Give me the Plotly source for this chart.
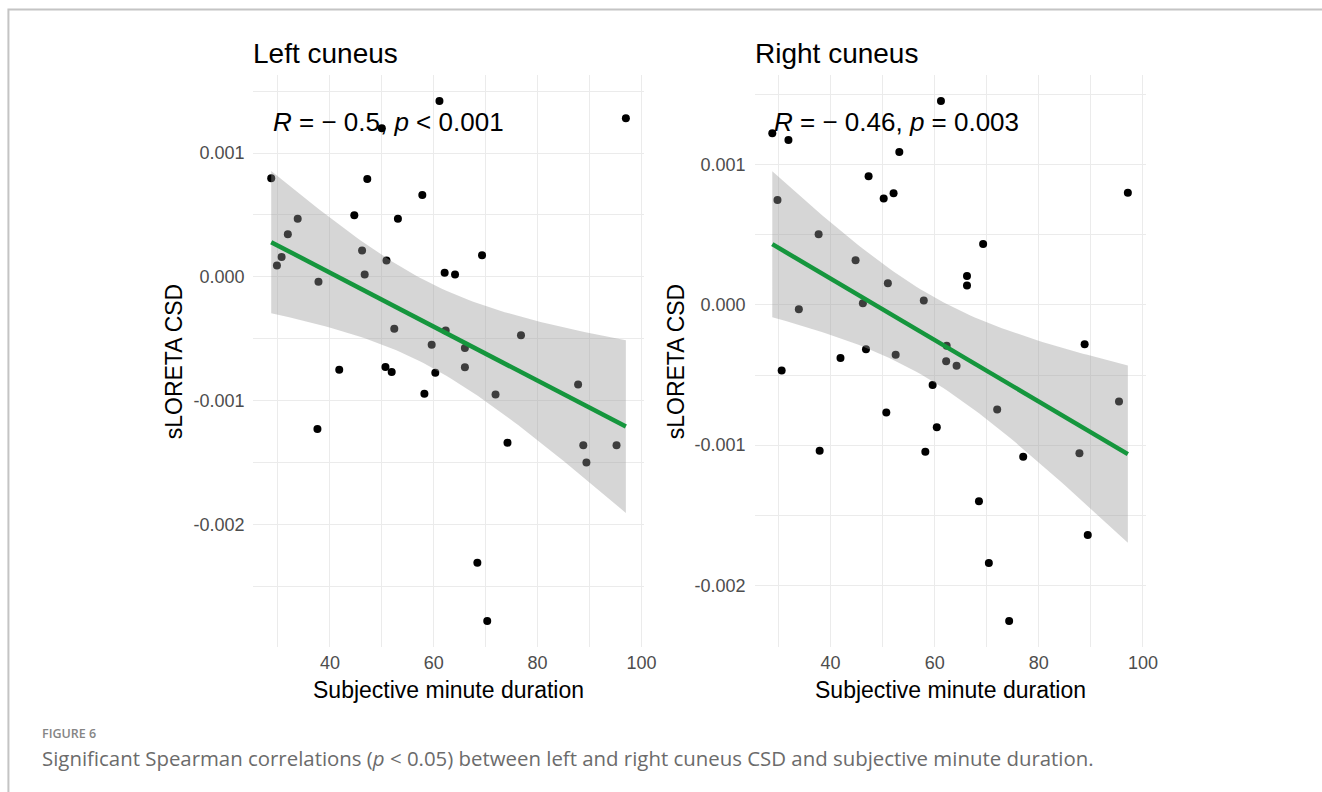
import numpy as np
import plotly.graph_objects as go

# ---------------- data ----------------
left_x = [61.1, 97.0, 50.0, 28.7, 47.2, 57.8, 44.7, 53.1, 33.8, 31.9, 46.2, 30.7, 29.8,
          50.9, 69.3, 62.1, 64.1, 46.7, 37.8, 52.4, 62.3, 76.8, 59.6, 66.0, 66.0, 41.8,
          50.7, 51.9, 60.3, 58.2, 71.9, 87.8, 37.6, 74.2, 88.8, 95.2, 89.4, 68.4, 70.3]
left_y = [0.00142, 0.00128, 0.00120, 0.000796, 0.00079, 0.00066, 0.000497, 0.000468,
          0.000468, 0.000344, 0.000212, 0.000159, 0.000091, 0.000132, 0.000175, 0.000032,
          0.000019, 0.000019, -0.00004, -0.00042, -0.000433, -0.000473, -0.000548,
          -0.000575, -0.000731, -0.00075, -0.000728, -0.000769, -0.000774, -0.000944,
          -0.00095, -0.00087, -0.00123, -0.00134, -0.00136, -0.00136, -0.0015,
          -0.00231, -0.00278]

right_x = [61.2, 28.8, 31.9, 53.2, 47.3, 52.1, 50.2, 97.1, 29.8, 37.7, 69.3, 44.8, 66.2,
           66.2, 51.0, 57.9, 46.2, 33.9, 46.8, 52.5, 41.9, 62.3, 62.2, 64.2, 30.6, 59.6,
           95.4, 72.0, 50.7, 60.4, 37.9, 58.2, 87.8, 77.0, 68.5, 89.4, 70.4, 74.3, 88.8]
right_y = [0.001454, 0.001224, 0.001176, 0.00109, 0.000917, 0.000796, 0.000758, 0.0008,
           0.000748, 0.000504, 0.000435, 0.000318, 0.000207, 0.000138, 0.000155, 0.000031,
           0.000012, -0.000031, -0.000316, -0.000356, -0.000378, -0.000292, -0.000401,
           -0.000433, -0.000468, -0.000572, -0.000689, -0.000746, -0.000768, -0.000872,
           -0.00104, -0.001048, -0.001057, -0.001083, -0.0014, -0.00164, -0.00184,
           -0.002254, -0.00028]

# linear-fit layer (values at the two ends of the fit)
left_fit_y = [0.00028, -0.00121]
left_band_lo = [-0.000293, -0.00191]
left_band_hi = [0.000857, -0.000516]
right_fit_y = [0.000433, -0.001064]
right_band_lo = [-0.000095, -0.0017]
right_band_hi = [0.000946, -0.000435]

panel_titles = ["Left cuneus", "Right cuneus"]
cor_labels = ["<i>R</i> = \u2212 0.5, <i>p</i> < 0.001", "<i>R</i> = \u2212 0.46, <i>p</i> = 0.003"]
x_tickvals = [40, 60, 80, 100]
x_ticktext = ["40", "60", "80", "100"]
y_tickvals = [0.001, 0.0, -0.001, -0.002]
y_ticktext = ["0.001", "0.000", "-0.001", "-0.002"]
x_title = "Subjective minute duration"
y_title = "sLORETA CSD"
caption_head = "FIGURE 6"
caption_body = ("Significant Spearman correlations (<i>p</i> < 0.05) between left and right "
                "cuneus CSD and subjective minute duration.")

# ---------------- helpers ----------------
W, H = 1322, 792


def smooth_layer(x, fit_y, lo_y, hi_y, n=80):
    """Straight fit line between its read end values; the confidence band follows
    the usual lm standard-error shape sqrt(A + B (x - mean)^2), matched to the
    half-widths read at both ends."""
    x = np.asarray(x, float)
    x0, x1 = x.min(), x.max()
    xbar = x.mean()
    xs = np.linspace(x0, x1, n)
    fit = fit_y[0] + (fit_y[1] - fit_y[0]) * (xs - x0) / (x1 - x0)
    h0 = (hi_y[0] - lo_y[0]) / 2
    h1 = (hi_y[1] - lo_y[1]) / 2
    d0 = (x0 - xbar) ** 2
    d1 = (x1 - xbar) ** 2
    B = (h1 ** 2 - h0 ** 2) / (d1 - d0)
    A = h0 ** 2 - B * d0
    h = np.sqrt(A + B * (xs - xbar) ** 2)
    return xs, fit, fit - h, fit + h


def expand(vals):
    lo, hi = min(vals), max(vals)
    d = (hi - lo) * 0.05
    return [lo - d, hi + d]


def px_x(p):
    return p / W


def px_y(p):
    return 1 - p / H


panels = [
    dict(x=left_x, y=left_y, fit=left_fit_y, lo=left_band_lo, hi=left_band_hi,
         dom=[px_x(256), px_x(650)], ylab_x=176),
    dict(x=right_x, y=right_y, fit=right_fit_y, lo=right_band_lo, hi=right_band_hi,
         dom=[px_x(762), px_x(1157)], ylab_x=683),
]
ydom = [px_y(647), px_y(75)]

fig = go.Figure()
FONT = "Liberation Sans, Arial, sans-serif"
GRID = "#ebebeb"

annotations = []
for i, p in enumerate(panels):
    ax = "" if i == 0 else str(i + 1)
    xs, fit, lo, hi = smooth_layer(p["x"], p["fit"], p["lo"], p["hi"])
    # points first (ribbon drawn on top like ggplot)
    fig.add_trace(go.Scatter(x=p["x"], y=p["y"], mode="markers",
                             marker=dict(color="black", size=8, line=dict(width=0)),
                             xaxis="x" + ax, yaxis="y" + ax, showlegend=False,
                             hoverinfo="skip"))
    fig.add_trace(go.Scatter(x=np.concatenate([xs, xs[::-1]]),
                             y=np.concatenate([hi, lo[::-1]]),
                             fill="toself", fillcolor="rgba(153,153,153,0.4)",
                             line=dict(width=0), mode="lines",
                             xaxis="x" + ax, yaxis="y" + ax, showlegend=False,
                             hoverinfo="skip"))
    fig.add_trace(go.Scatter(x=xs, y=fit, mode="lines",
                             line=dict(color="#15963d", width=4.5),
                             xaxis="x" + ax, yaxis="y" + ax, showlegend=False,
                             hoverinfo="skip"))

    xr = expand(p["x"])
    yr = expand(p["y"])
    fig.update_layout(**{
        "xaxis" + ax: dict(domain=p["dom"], range=xr, anchor="y" + ax,
                           tickvals=x_tickvals, ticktext=x_ticktext,
                           showgrid=True, gridcolor=GRID, gridwidth=1.2,
                           minor=dict(dtick=10, tick0=0, showgrid=True, gridcolor=GRID,
                                      gridwidth=0.7),
                           zeroline=False, showline=False, ticks="",
                           ticklabelstandoff=3,
                           tickfont=dict(family=FONT, size=18, color="#4d4d4d")),
        "yaxis" + ax: dict(domain=ydom, range=yr, anchor="x" + ax,
                           tickvals=y_tickvals, ticktext=y_ticktext,
                           showgrid=True, gridcolor=GRID, gridwidth=1.2,
                           minor=dict(dtick=0.0005, tick0=0, showgrid=True, gridcolor=GRID,
                                      gridwidth=0.7),
                           zeroline=False, showline=False, ticks="",
                           ticklabelstandoff=8,
                           tickfont=dict(family=FONT, size=18, color="#4d4d4d")),
    })

    # correlation label
    annotations.append(dict(x=min(p["x"]), y=max(p["y"]), xref="x" + ax, yref="y" + ax,
                            text=cor_labels[i], showarrow=False, xanchor="left",
                            yanchor="middle", yshift=-21,
                            font=dict(family=FONT, size=26, color="black")))
    # panel title
    annotations.append(dict(x=p["dom"][0], y=px_y(53), xref="paper", yref="paper",
                            text=panel_titles[i], showarrow=False, xanchor="left",
                            yanchor="middle", xshift=-2,
                            font=dict(family=FONT, size=28, color="black")))
    # x axis title
    annotations.append(dict(x=(p["dom"][0] + p["dom"][1]) / 2, y=px_y(690),
                            xref="paper", yref="paper", text=x_title, showarrow=False,
                            xanchor="center", yanchor="middle",
                            font=dict(family=FONT, size=23, color="black")))
    # y axis title
    annotations.append(dict(x=px_x(p["ylab_x"]), y=(ydom[0] + ydom[1]) / 2,
                            xref="paper", yref="paper", text=y_title, showarrow=False,
                            textangle=-90, xanchor="center", yanchor="middle",
                            font=dict(family=FONT, size=23, color="black")))

# caption
annotations.append(dict(x=px_x(40), y=px_y(733), xref="paper", yref="paper",
                        text=caption_head, showarrow=False, xanchor="left",
                        yanchor="middle",
                        font=dict(family="Open Sans, sans-serif", size=12.5, color="#858585",
                                  weight=600)))
annotations.append(dict(x=px_x(40), y=px_y(758), xref="paper", yref="paper",
                        text=caption_body, showarrow=False, xanchor="left",
                        yanchor="middle",
                        font=dict(family="Open Sans, sans-serif", size=20.4, color="#6b6b6b")))

fig.update_layout(
    width=W, height=H, margin=dict(l=0, r=0, t=0, b=0),
    paper_bgcolor="white", plot_bgcolor="white",
    annotations=annotations,
    shapes=[dict(type="rect", xref="paper", yref="paper",
                 x0=px_x(8.5), x1=1.05, y0=-0.05, y1=px_y(9.5),
                 line=dict(color="#c4c4c4", width=2), fillcolor="rgba(0,0,0,0)",
                 layer="below")],
)

fig.write_html("out.html",
               config={"displayModeBar": False},
               post_script="document.body.style.margin='0px';"
                           "document.body.style.overflow='hidden';")
